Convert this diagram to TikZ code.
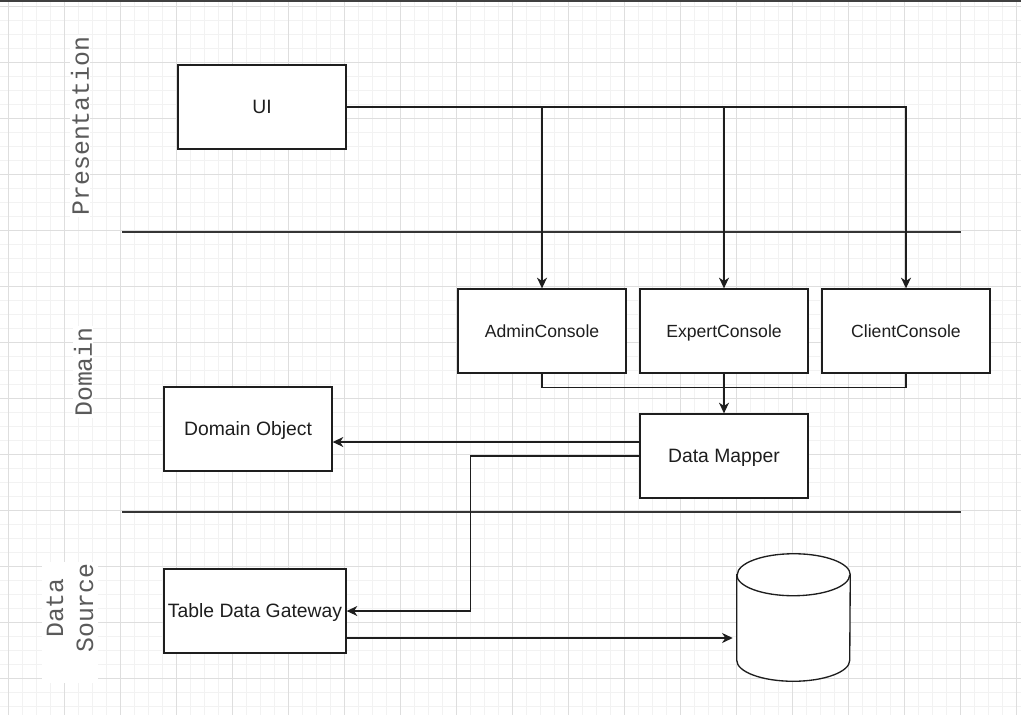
\documentclass[tikz,border=0pt]{standalone}
\usepackage{fontspec}
\setmainfont{Liberation Sans}
\newfontfamily\labelmono{Liberation Mono}
\usetikzlibrary{arrows.meta,calc}
\definecolor{gridminor}{HTML}{F2F2F2}
\definecolor{gridmajor}{HTML}{DEDEDE}
\definecolor{inkc}{HTML}{1E1E1E}
\definecolor{labelgray}{HTML}{5A5A5A}
\begin{document}
\begin{tikzpicture}[x=0.75pt,y=-0.75pt,
  box/.style={draw=inkc,line width=1pt,fill=white,minimum width=126pt,minimum height=63pt,inner sep=0pt,font=\fontsize{14.5}{17}\selectfont,text=inkc,text height=10.4pt,text depth=0pt},
  cbox/.style={box,font=\fontsize{13.2}{16}\selectfont,text height=9.45pt},
  arr/.style={draw=inkc,line width=1pt,-{Stealth[length=8pt,width=7.5pt,inset=2.5pt]}},
  conn/.style={draw=inkc,line width=1pt},
  sep/.style={draw=inkc!90,line width=1.1pt},
  layer/.style={rotate=90,font=\labelmono\fontsize{18.6}{22.5}\selectfont,text=labelgray,fill=white,inner sep=1pt,align=center}]
\useasboundingbox (0,0) rectangle (1021,715);
\fill[white] (0,0) rectangle (1021,715);
% grid
\foreach \i in {0,...,73} \draw[gridminor,line width=0.75pt] ({-5.7+14*\i},0) -- ({-5.7+14*\i},715);
\foreach \j in {0,...,52} \draw[gridminor,line width=0.75pt] (0,{-7.3+14*\j}) -- (1021,{-7.3+14*\j});
\foreach \i in {0,...,18} \draw[gridmajor,line width=0.75pt] ({8.3+56*\i},0) -- ({8.3+56*\i},715);
\foreach \j in {0,...,12} \draw[gridmajor,line width=0.75pt] (0,{6.7+56*\j}) -- (1021,{6.7+56*\j});
\fill[inkc!85] (0,0) rectangle (1021,1.5);
% separators
\draw[sep] (122,232) -- (961,232);
\draw[sep] (122,512) -- (961,512);
% layer labels
\node[layer] (lp) at (80,126) {Presentation};
\node[layer] (ld) at (83,372) {Domain};
\fill[white] (42,565) rectangle (98,683);
\node[layer] (lds) at (70,608) {Data\\Source};
% boxes
\node[box] (ui) at (262,107) {UI};
\node[cbox] (admin) at (542,331) {AdminConsole};
\node[cbox] (expert) at (724,331) {ExpertConsole};
\node[cbox] (client) at (906,331) {ClientConsole};
\node[box] (domobj) at (248,429) {Domain Object};
\node[box] (mapper) at (724,456) {Data Mapper};
\node[box,minimum width=136.5pt] (tdg) at (255,611) {Table Data Gateway};
% database cylinder
\node[minimum width=84.75pt,minimum height=95.25pt,inner sep=0pt] (db) at (793.5,617.5) {};
\coordinate (dbtl) at ($(db.north west)+(0,21)$);
\coordinate (dbbl) at ($(db.south west)+(0,-21)$);
\coordinate (dbtr) at ($(db.north east)+(0,21)$);
\draw[conn,fill=white] (dbtl) -- (dbbl) arc[start angle=180,end angle=360,x radius=42.375pt,y radius=15.75pt] -- (dbtr) arc[start angle=0,end angle=180,x radius=42.375pt,y radius=15.75pt] -- cycle;
\draw[conn] (dbtl) arc[start angle=180,end angle=360,x radius=42.375pt,y radius=15.75pt];
% connectors
\draw[arr] (ui.east) -| (admin.north);
\draw[arr] (ui.east) -| (expert.north);
\draw[arr] (ui.east) -| (client.north);
\draw[conn] (admin.south) -- ++(0,14) -| (client.south);
\draw[arr] (expert.south) -- (mapper.north);
\coordinate (mdo) at ($(mapper.west)+(0,-14)$);
\draw[arr] (mdo) -- (mdo -| domobj.east);
\draw[arr] (mapper.west) -- ++(-169,0) |- (tdg.east);
\coordinate (tds) at ($(tdg.east)+(0,27)$);
\draw[arr,shorten >=3pt] (tds) -- (tds -| db.west);
\end{tikzpicture}
\end{document}
